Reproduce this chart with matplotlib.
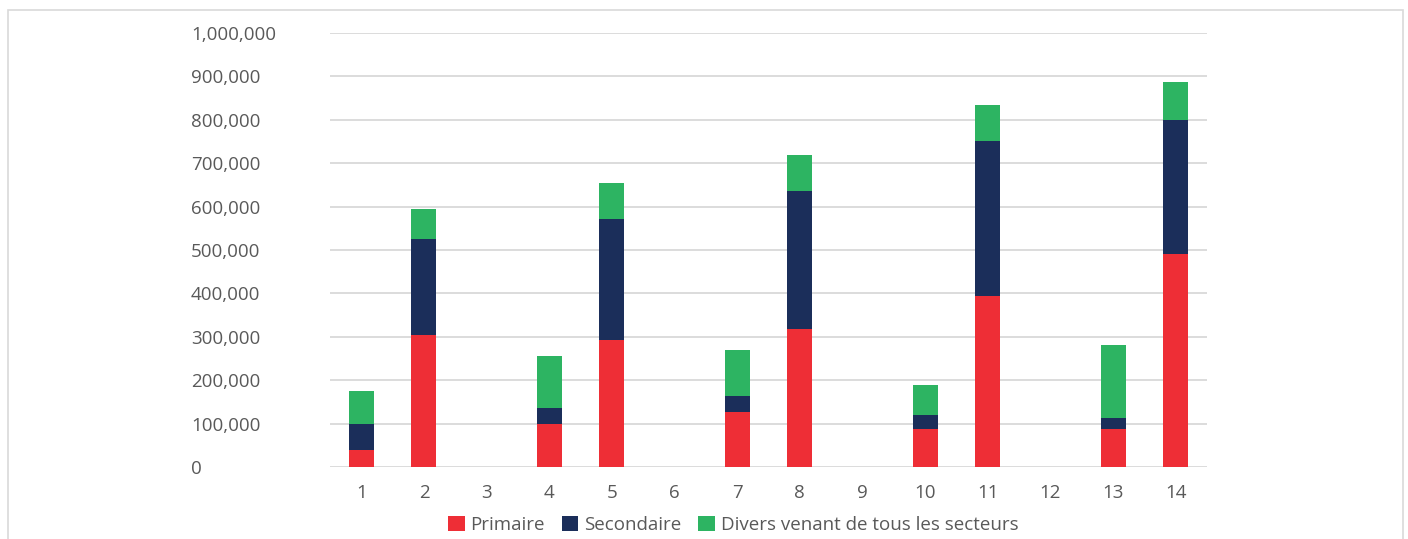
import matplotlib
matplotlib.use("Agg")
import matplotlib.pyplot as plt
from matplotlib.patches import Rectangle
from matplotlib.ticker import FuncFormatter
import numpy as np

categories = [str(i) for i in range(1, 15)]
primaire = [40000, 303000, 0, 100000, 292000, 0, 127000, 317000, 0, 87000, 393000, 0, 87000, 491000]
secondaire = [60000, 222000, 0, 35000, 280000, 0, 36000, 319000, 0, 32000, 358000, 0, 27000, 309000]
divers = [75000, 69000, 0, 121000, 82000, 0, 106000, 82000, 0, 69000, 82000, 0, 166000, 88000]
series_names = ["Primaire", "Secondaire", "Divers venant de tous les secteurs"]
colors = ["#EE2E36", "#1B2E5A", "#2DB462"]

plt.rcParams['font.family'] = ['Open Sans', 'DejaVu Sans']

fig = plt.figure(figsize=(14.08, 5.39), dpi=100)
ax = fig.add_axes([330/1408, 1 - 467/539, (1207-330)/1408, (467-33)/539])

x = np.arange(len(categories))
p = np.array(primaire)
s = np.array(secondaire)
d = np.array(divers)
w = 0.4
ax.bar(x, p, w, color=colors[0], label=series_names[0], zorder=3)
ax.bar(x, s, w, bottom=p, color=colors[1], label=series_names[1], zorder=3)
ax.bar(x, d, w, bottom=p + s, color=colors[2], label=series_names[2], zorder=3)

ax.set_xlim(-0.5, len(categories) - 0.5)
ax.set_ylim(0, 1000000)
ax.set_yticks(np.arange(0, 1000001, 100000))
ax.yaxis.set_major_formatter(FuncFormatter(lambda v, pos: f"{int(v):,}"))
ax.set_xticks(x)
ax.set_xticklabels(categories)
ax.grid(axis='y', color='#D9D9D9', linewidth=1.3, zorder=0)
for sp in ax.spines.values():
    sp.set_visible(False)
ax.tick_params(axis='both', length=0, labelsize=13.5, colors='#595959')
ax.tick_params(axis='x', pad=12)
for lab in ax.get_yticklabels():
    lab.set_horizontalalignment('left')
ax.yaxis.set_tick_params(pad=100)

leg = fig.legend(loc='center', bbox_to_anchor=(733/1408, 1 - 525/539), ncol=3, frameon=False,
                 fontsize=13.5, handlelength=0.9, handleheight=0.9, handletextpad=0.3,
                 columnspacing=0.9, labelcolor='#595959')

fig.patches.append(Rectangle((8/1408, -0.05), (1403-8)/1408, 1.05 - 10/539, transform=fig.transFigure,
                             fill=False, edgecolor='#D9D9D9', linewidth=1.2))

fig.savefig("out.png", dpi=100)
